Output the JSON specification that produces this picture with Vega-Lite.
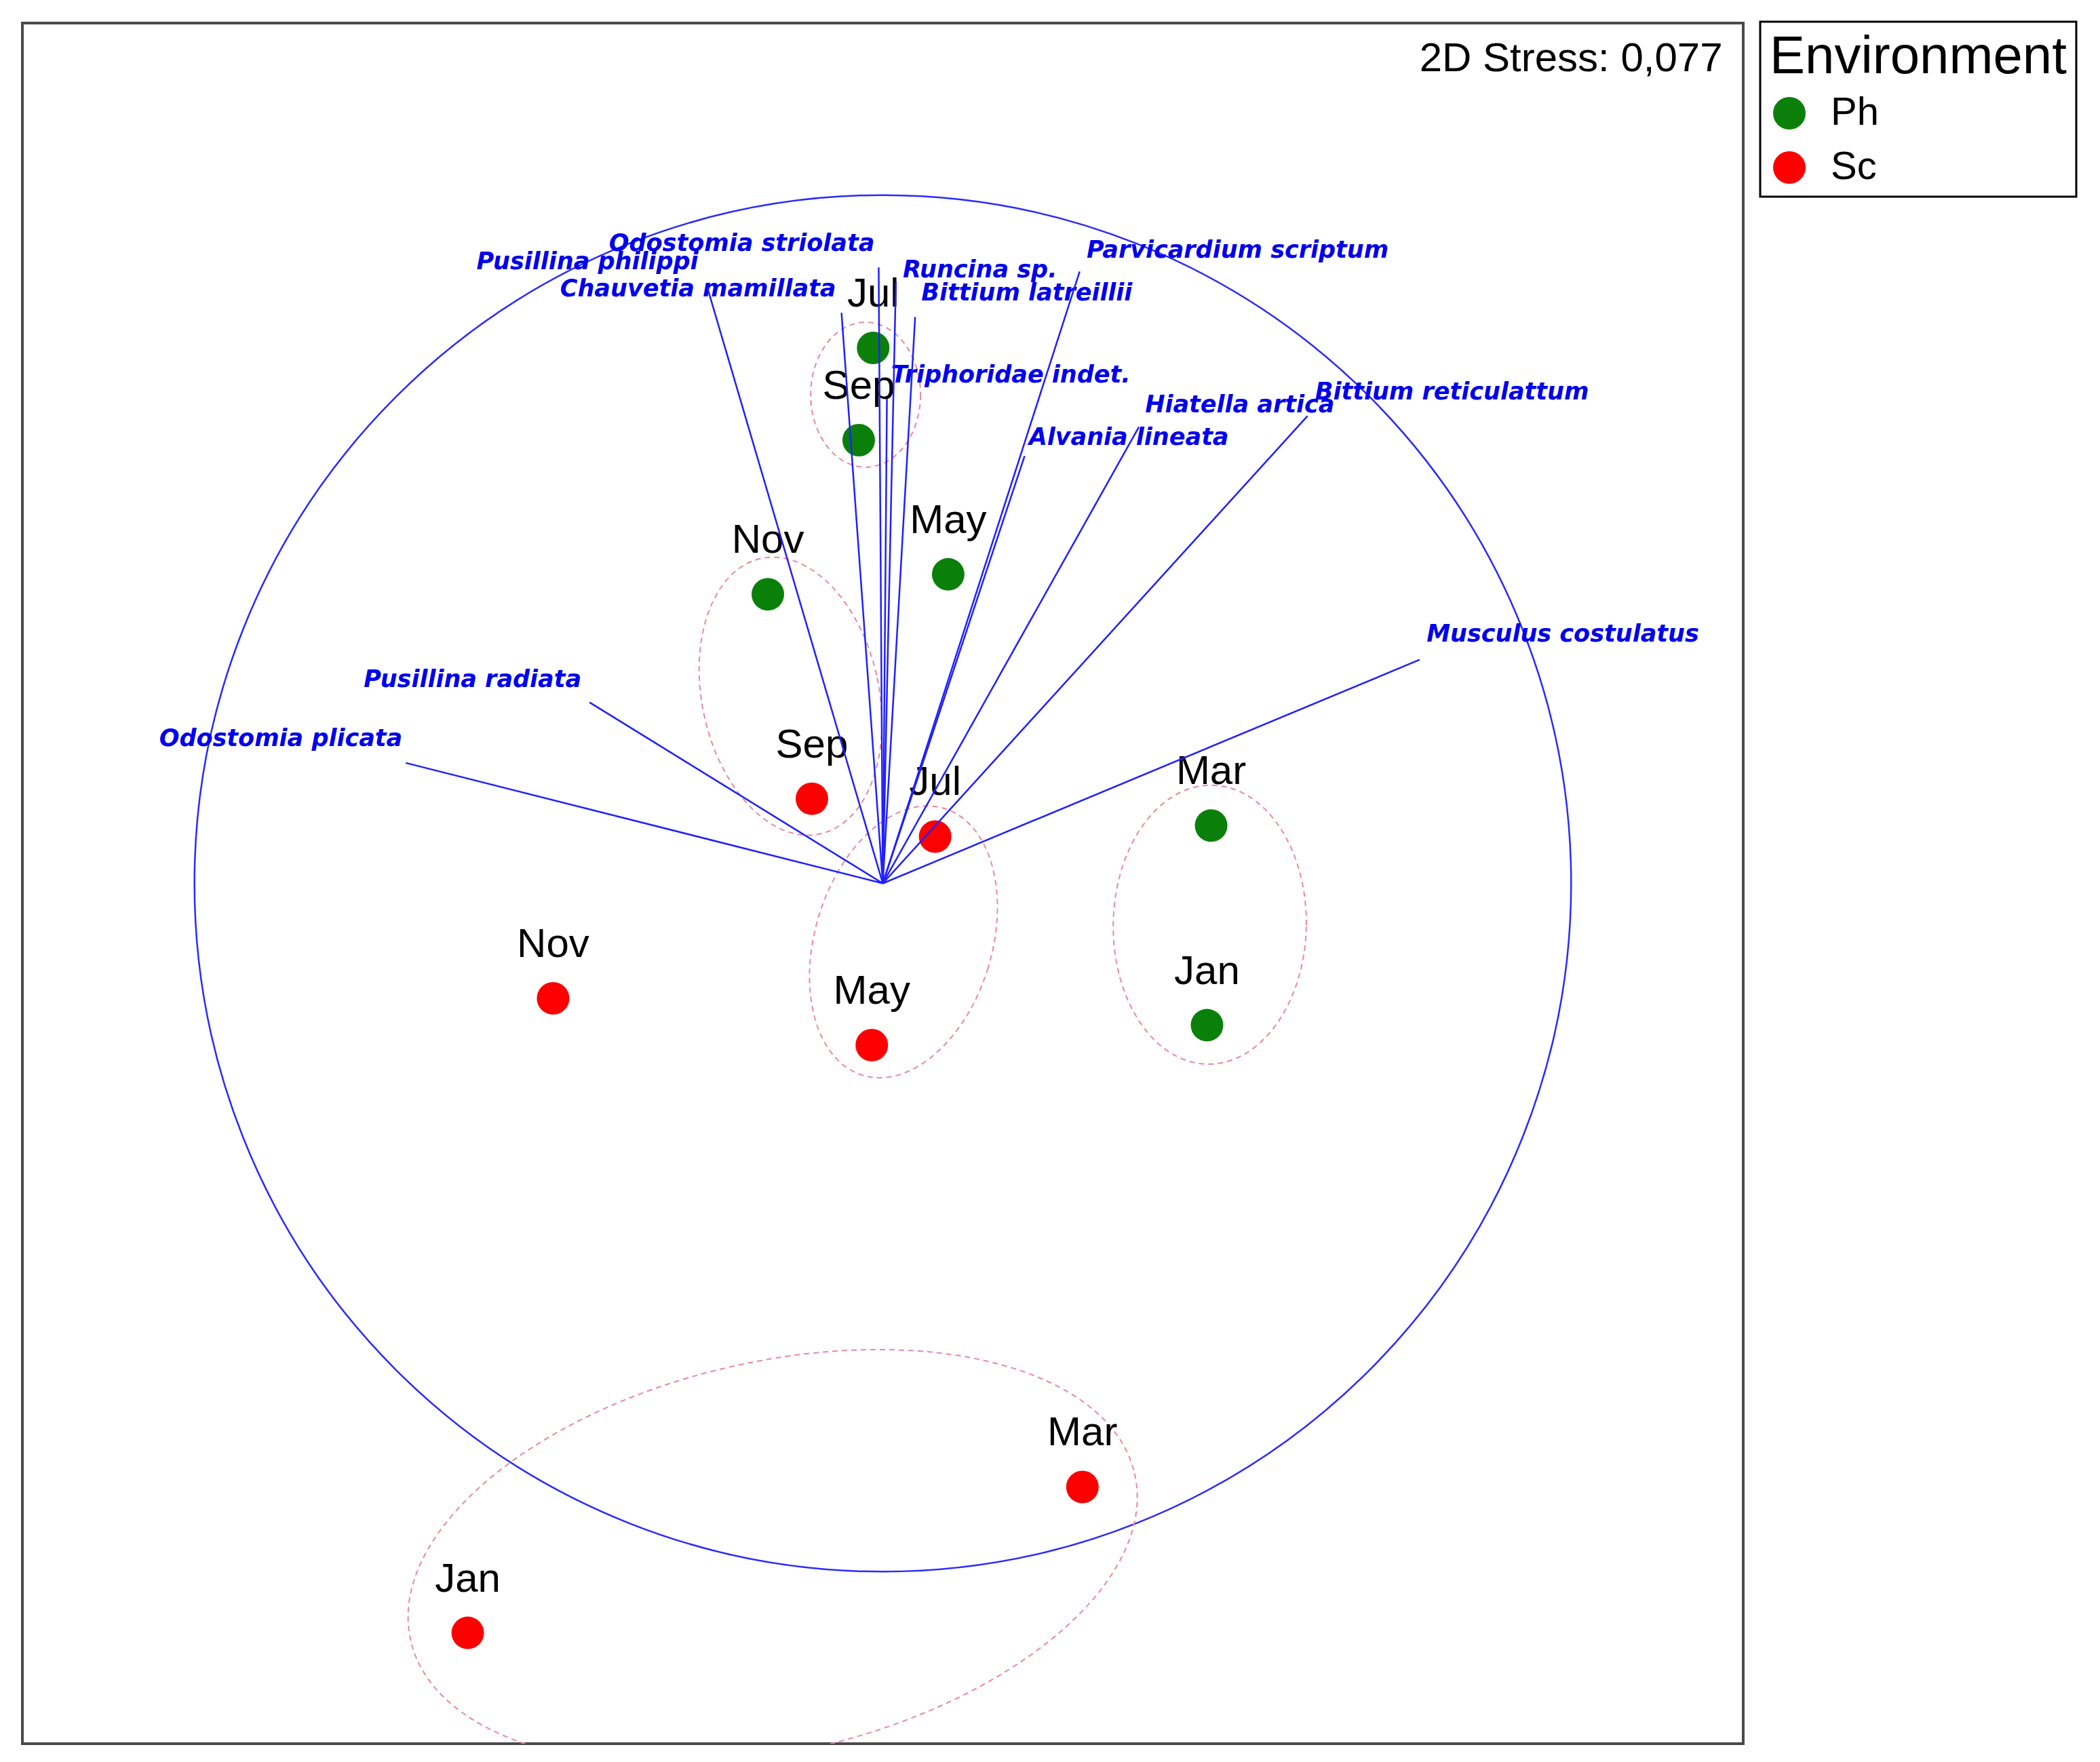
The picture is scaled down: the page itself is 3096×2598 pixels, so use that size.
{
  "$schema": "https://vega.github.io/schema/vega-lite/v6.json",
  "width": 2537,
  "height": 2537,
  "autosize": {"type": "none"},
  "padding": {"left": 33, "top": 34, "right": 526, "bottom": 27},
  "background": "white",
  "config": {"view": {"stroke": "#4a4a4a", "strokeWidth": 4}, "legend": {"strokeWidth": 3}},
  "datasets": {
    "samples": [
      {"env": "Ph", "month": "Jul", "x": -0.014, "y": 0.778},
      {"env": "Ph", "month": "Sep", "x": -0.035, "y": 0.644},
      {"env": "Ph", "month": "May", "x": 0.095, "y": 0.449},
      {"env": "Ph", "month": "Nov", "x": -0.167, "y": 0.420},
      {"env": "Ph", "month": "Mar", "x": 0.477, "y": 0.084},
      {"env": "Ph", "month": "Jan", "x": 0.471, "y": -0.206},
      {"env": "Sc", "month": "Sep", "x": -0.103, "y": 0.123},
      {"env": "Sc", "month": "Jul", "x": 0.076, "y": 0.068},
      {"env": "Sc", "month": "Nov", "x": -0.479, "y": -0.167},
      {"env": "Sc", "month": "May", "x": -0.016, "y": -0.235},
      {"env": "Sc", "month": "Mar", "x": 0.290, "y": -0.877},
      {"env": "Sc", "month": "Jan", "x": -0.603, "y": -1.089}
    ],
    "species": [
      {"species": "Odostomia plicata", "ox": 0, "oy": 0, "vx": -0.693, "vy": 0.175, "lx": -0.698, "ly": 0.210},
      {"species": "Pusillina radiata", "ox": 0, "oy": 0, "vx": -0.426, "vy": 0.263, "lx": -0.438, "ly": 0.296},
      {"species": "Pusillina philippi", "ox": 0, "oy": 0, "vx": -0.255, "vy": 0.866, "lx": -0.268, "ly": 0.903},
      {"species": "Chauvetia mamillata", "ox": 0, "oy": 0, "vx": -0.060, "vy": 0.829, "lx": -0.068, "ly": 0.864},
      {"species": "Odostomia striolata", "ox": 0, "oy": 0, "vx": -0.006, "vy": 0.895, "lx": -0.012, "ly": 0.930},
      {"species": "Runcina sp.", "ox": 0, "oy": 0, "vx": 0.019, "vy": 0.874, "lx": 0.029, "ly": 0.891},
      {"species": "Bittium latreillii", "ox": 0, "oy": 0, "vx": 0.047, "vy": 0.823, "lx": 0.056, "ly": 0.858},
      {"species": "Triphoridae indet.", "ox": 0, "oy": 0, "vx": 0.006, "vy": 0.704, "lx": 0.012, "ly": 0.739},
      {"species": "Parvicardium scriptum", "ox": 0, "oy": 0, "vx": 0.286, "vy": 0.889, "lx": 0.296, "ly": 0.920},
      {"species": "Alvania lineata", "ox": 0, "oy": 0, "vx": 0.206, "vy": 0.621, "lx": 0.212, "ly": 0.648},
      {"species": "Hiatella artica", "ox": 0, "oy": 0, "vx": 0.372, "vy": 0.663, "lx": 0.381, "ly": 0.695},
      {"species": "Bittium reticulattum", "ox": 0, "oy": 0, "vx": 0.617, "vy": 0.679, "lx": 0.628, "ly": 0.714},
      {"species": "Musculus costulatus", "ox": 0, "oy": 0, "vx": 0.780, "vy": 0.325, "lx": 0.790, "ly": 0.362}
    ],
    "groups": [
      {"group": "Ph Jul-Sep", "x": -0.025, "y": 0.710},
      {"group": "Ph Nov + Sc Sep", "x": -0.134, "y": 0.272},
      {"group": "Sc Jul-May", "x": 0.030, "y": -0.085},
      {"group": "Ph Mar-Jan", "x": 0.475, "y": -0.060},
      {"group": "Sc Mar-Jan", "x": -0.160, "y": -0.979}
    ],
    "origin": [{"x": 0, "y": 0}],
    "stress": [{"text": "2D Stress: 0,077", "x": 1.220, "y": 1.198}]
  },
  "layer": [
    {
      "data": {"name": "origin"},
      "mark": {"type": "point", "shape": "circle", "filled": false, "size": 4119276, "stroke": "#2a2aff", "strokeWidth": 2.5, "opacity": 1},
      "encoding": {
        "x": {"field": "x", "type": "quantitative", "scale": {"domain": [-1.25, 1.25], "nice": false, "zero": false}, "axis": null},
        "y": {"field": "y", "type": "quantitative", "scale": {"domain": [-1.25, 1.25], "nice": false, "zero": false}, "axis": null}
      }
    },
    {
      "data": {"name": "groups"},
      "transform": [{"filter": {"field": "group", "equal": "Ph Jul-Sep"}}],
      "mark": {"type": "point", "filled": false, "opacity": 1, "stroke": "#e88a9e", "strokeWidth": 2, "strokeDash": [8, 6], "size": 26244, "angle": 0,
        "shape": "M 1 0 C 1 0.728 0.5523 1.318 0 1.318 C -0.5523 1.318 -1 0.728 -1 0 C -1 -0.728 -0.5523 -1.318 0 -1.318 C 0.5523 -1.318 1 -0.728 1 0 Z"},
      "encoding": {
        "x": {"field": "x", "type": "quantitative", "axis": null},
        "y": {"field": "y", "type": "quantitative", "axis": null}
      }
    },
    {
      "data": {"name": "groups"},
      "transform": [{"filter": {"field": "group", "equal": "Ph Nov + Sc Sep"}}],
      "mark": {"type": "point", "filled": false, "opacity": 1, "stroke": "#e88a9e", "strokeWidth": 2, "strokeDash": [8, 6], "size": 68121, "angle": -12,
        "shape": "M 1 0 C 1 0.879 0.5523 1.591 0 1.591 C -0.5523 1.591 -1 0.879 -1 0 C -1 -0.879 -0.5523 -1.591 0 -1.591 C 0.5523 -1.591 1 -0.879 1 0 Z"},
      "encoding": {
        "x": {"field": "x", "type": "quantitative", "axis": null},
        "y": {"field": "y", "type": "quantitative", "axis": null}
      }
    },
    {
      "data": {"name": "groups"},
      "transform": [{"filter": {"field": "group", "equal": "Sc Jul-May"}}],
      "mark": {"type": "point", "filled": false, "opacity": 1, "stroke": "#e88a9e", "strokeWidth": 2, "strokeDash": [8, 6], "size": 68121, "angle": 17,
        "shape": "M 1 0 C 1 0.870 0.5523 1.576 0 1.576 C -0.5523 1.576 -1 0.870 -1 0 C -1 -0.870 -0.5523 -1.576 0 -1.576 C 0.5523 -1.576 1 -0.870 1 0 Z"},
      "encoding": {
        "x": {"field": "x", "type": "quantitative", "axis": null},
        "y": {"field": "y", "type": "quantitative", "axis": null}
      }
    },
    {
      "data": {"name": "groups"},
      "transform": [{"filter": {"field": "group", "equal": "Ph Mar-Jan"}}],
      "mark": {"type": "point", "filled": false, "opacity": 1, "stroke": "#e88a9e", "strokeWidth": 2, "strokeDash": [8, 6], "size": 81000, "angle": 1,
        "shape": "M 1 0 C 1 0.798 0.5523 1.445 0 1.445 C -0.5523 1.445 -1 0.798 -1 0 C -1 -0.798 -0.5523 -1.445 0 -1.445 C 0.5523 -1.445 1 -0.798 1 0 Z"},
      "encoding": {
        "x": {"field": "x", "type": "quantitative", "axis": null},
        "y": {"field": "y", "type": "quantitative", "axis": null}
      }
    },
    {
      "data": {"name": "groups"},
      "transform": [{"filter": {"field": "group", "equal": "Sc Mar-Jan"}}],
      "mark": {"type": "point", "filled": false, "opacity": 1, "clip": true, "stroke": "#e88a9e", "strokeWidth": 2, "strokeDash": [8, 6], "size": 1199463, "angle": -13,
        "shape": "M 1 0 C 1 0.290 0.5523 0.525 0 0.525 C -0.5523 0.525 -1 0.290 -1 0 C -1 -0.290 -0.5523 -0.525 0 -0.525 C 0.5523 -0.525 1 -0.290 1 0 Z"},
      "encoding": {
        "x": {"field": "x", "type": "quantitative", "axis": null},
        "y": {"field": "y", "type": "quantitative", "axis": null}
      }
    },
    {
      "data": {"name": "samples"},
      "mark": {"type": "point", "shape": "circle", "filled": true, "size": 2304, "opacity": 1, "strokeWidth": 0},
      "encoding": {
        "x": {"field": "x", "type": "quantitative", "axis": null},
        "y": {"field": "y", "type": "quantitative", "axis": null},
        "color": {
          "field": "env", "type": "nominal", "title": "Environment",
          "scale": {"domain": ["Ph", "Sc"], "range": ["#0a800a", "#ff0000"]},
          "legend": {
            "orient": "none", "legendX": 2562, "legendY": -2,
            "titleFont": "Liberation Sans", "titleFontSize": 78, "titleFontWeight": "normal", "titleColor": "black", "titlePadding": 14, "titleLimit": 1000,
            "labelFont": "Liberation Sans", "labelFontSize": 58, "labelColor": "black", "labelOffset": 32, "labelLimit": 1000,
            "symbolType": "circle", "symbolSize": 2304, "symbolStrokeWidth": 0, "symbolOpacity": 1,
            "rowPadding": 22, "padding": 14, "strokeColor": "black", "fillColor": "white"
          }
        }
      }
    },
    {
      "data": {"name": "samples"},
      "mark": {"type": "text", "font": "Liberation Sans", "fontSize": 60, "color": "black", "align": "center", "baseline": "alphabetic", "dy": -61},
      "encoding": {
        "x": {"field": "x", "type": "quantitative", "axis": null},
        "y": {"field": "y", "type": "quantitative", "axis": null},
        "text": {"field": "month"}
      }
    },
    {
      "data": {"name": "species"},
      "transform": [{"filter": {"field": "vx", "lt": 0}}],
      "mark": {"type": "text", "font": "DejaVu Sans", "fontStyle": "italic", "fontWeight": "bold", "fontSize": 35, "color": "#0000ee", "align": "right", "baseline": "middle"},
      "encoding": {
        "x": {"field": "lx", "type": "quantitative", "axis": null},
        "y": {"field": "ly", "type": "quantitative", "axis": null},
        "text": {"field": "species"}
      }
    },
    {
      "data": {"name": "species"},
      "transform": [{"filter": {"field": "vx", "gte": 0}}],
      "mark": {"type": "text", "font": "DejaVu Sans", "fontStyle": "italic", "fontWeight": "bold", "fontSize": 35, "color": "#0000ee", "align": "left", "baseline": "middle"},
      "encoding": {
        "x": {"field": "lx", "type": "quantitative", "axis": null},
        "y": {"field": "ly", "type": "quantitative", "axis": null},
        "text": {"field": "species"}
      }
    },
    {
      "data": {"name": "species"},
      "mark": {"type": "rule", "color": "#2020ff", "strokeWidth": 2.5},
      "encoding": {
        "x": {"field": "ox", "type": "quantitative", "axis": null},
        "y": {"field": "oy", "type": "quantitative", "axis": null},
        "x2": {"field": "vx"},
        "y2": {"field": "vy"}
      }
    },
    {
      "data": {"name": "stress"},
      "mark": {"type": "text", "font": "Liberation Sans", "fontSize": 60, "color": "black", "align": "right", "baseline": "middle"},
      "encoding": {
        "x": {"field": "x", "type": "quantitative", "axis": null},
        "y": {"field": "y", "type": "quantitative", "axis": null},
        "text": {"field": "text"}
      }
    }
  ]
}
